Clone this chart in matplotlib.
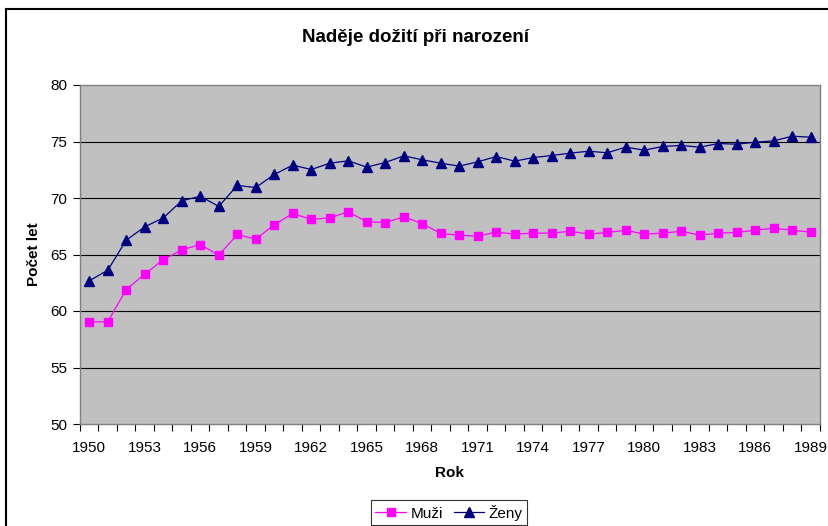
# nadeje doziti pri narozeni 1950-1989, muzi a zeny

import numpy as np
import matplotlib.pyplot as plt
from matplotlib.lines import Line2D

years = list(range(1950, 1990))

muzi = [59.04, 59.04, 61.90, 63.26, 64.53, 65.41, 65.88, 64.94, 66.77, 66.36,
        67.63, 68.63, 68.10, 68.24, 68.78, 67.89, 67.83, 68.33, 67.74, 66.86,
        66.71, 66.62, 66.98, 66.80, 66.89, 66.89, 67.06, 66.80, 66.95, 67.15,
        66.80, 66.89, 67.06, 66.71, 66.89, 66.95, 67.15, 67.33, 67.15, 66.98]

zeny = [62.67, 63.61, 66.27, 67.45, 68.24, 69.75, 70.16, 69.25, 71.11, 70.93,
        72.08, 72.91, 72.52, 73.08, 73.29, 72.73, 73.14, 73.73, 73.38, 73.08,
        72.82, 73.20, 73.67, 73.26, 73.58, 73.76, 73.97, 74.14, 74.00, 74.50,
        74.23, 74.56, 74.65, 74.50, 74.82, 74.76, 74.94, 75.06, 75.47, 75.38]

yticks = [50, 55, 60, 65, 70, 75, 80]

plt.rcParams['font.family'] = ['Liberation Sans', 'DejaVu Sans']

W, H = 829, 526
fig = plt.figure(figsize=(W/100, H/100), dpi=100)
ax = fig.add_axes([80/W, 1-424/H, 740/W, 339/H])
ax.set_facecolor('#c0c0c0')

x = np.arange(len(years))
ax.plot(x, muzi, color='#ff00ff', lw=0.9, marker='s', ms=5.5, mec='#ff00ff', label='Muži')
ax.plot(x, zeny, color='#000080', lw=0.9, marker='^', ms=6.5, mec='#000080', label='Ženy')

ax.set_xlim(-0.5, len(years)-0.5)
ax.set_ylim(50, 80)
ax.set_yticks(yticks)
for v in yticks[1:-1]:
    ax.axhline(v, color='black', lw=0.8, zorder=0.5)

# labels kazdy treti rok, tick na hranici kategorii
ax.set_xticks(x[::3])
ax.set_xticklabels([str(y) for y in years[::3]])
ax.set_xticks(np.arange(-0.5, len(years)), minor=True)
ax.tick_params(axis='x', which='major', length=0, pad=12, labelsize=11)
ax.tick_params(axis='x', which='minor', length=5, width=0.8, color='black', direction='out')
ax.tick_params(axis='y', length=5, width=0.8, color='black', labelsize=11, pad=4)

for s in ax.spines.values():
    s.set_color('#808080')
    s.set_linewidth(1)

ax.set_xlabel('Rok', fontsize=11, fontweight='bold', labelpad=8)
ax.set_ylabel('Počet let', fontsize=11, fontweight='bold', labelpad=7)
fig.text(416/W, 1-37/H, 'Naděje dožití při narození', ha='center', va='center',
         fontsize=13.5, fontweight='bold')

# ramecek grafu
fig.add_artist(Line2D([6/W, 6/W], [0, 1-9/H], color='black', lw=1.5))
fig.add_artist(Line2D([6/W, 1], [1-9/H, 1-9/H], color='black', lw=1.5))

leg = fig.legend(loc='upper center', bbox_to_anchor=(449/W, 1-500/H), ncol=2,
                 fontsize=11, frameon=True, fancybox=False, edgecolor='black',
                 handlelength=2.0, handletextpad=0.3, columnspacing=0.7,
                 borderpad=0.3, borderaxespad=0)
leg.get_frame().set_linewidth(0.8)

fig.savefig('out.png', dpi=100)
